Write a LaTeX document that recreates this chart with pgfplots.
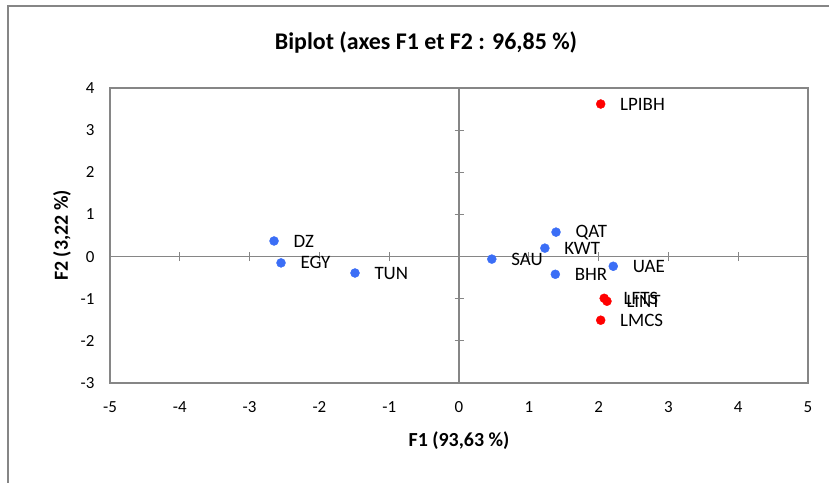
\documentclass[border=0pt]{standalone}
\usepackage{fontspec}
\setmainfont{Carlito}
\usepackage{pgfplots}
\usepackage{pgfplotstable}
\pgfplotsset{compat=1.18}
\definecolor{ptblue}{RGB}{59,110,246}
\definecolor{ptred}{RGB}{255,0,0}
\definecolor{axgray}{RGB}{134,134,134}

\pgfplotstableread{
x y label
-2.65 0.37 DZ
-2.55 -0.15 EGY
-1.49 -0.39 TUN
0.47 -0.06 SAU
1.23 0.20 KWT
1.39 0.58 QAT
1.38 -0.42 BHR
2.21 -0.23 UAE
}\obs
\pgfplotstableread{
x y label
2.03 3.62 LPIBH
2.08 -0.99 LFTS
2.12 -1.06 LINT
2.03 -1.51 LMCS
}\vars

\begin{document}
\begin{tikzpicture}
\useasboundingbox (0,0) rectangle (829bp,483bp);
\draw[axgray, line width=1.5bp] (8bp,0) -- (8bp,477bp) -- (829bp,477bp);
\node[font=\fontsize{24}{28}\selectfont\bfseries] at (426bp,440bp) {Biplot (axes F1 et F2 : 96,85 \%)};
% inner (middle) axes with crossing ticks
\begin{axis}[at={(110bp,100bp)}, anchor=south west, width=698bp, height=295bp, scale only axis,
  xmin=-5, xmax=5, ymin=-3, ymax=4,
  axis lines=middle, axis line style={draw=axgray, line width=1.2bp, -},
  every inner x axis line/.append style={-}, every inner y axis line/.append style={-},
  xtick={-5,...,5}, ytick={-3,...,4}, xticklabels={}, yticklabels={},
  major tick length=9bp, tick align=center, tick style={axgray, line width=1bp}]
\end{axis}
\begin{axis}[at={(110bp,100bp)}, anchor=south west, width=698bp, height=295bp, scale only axis,
  xmin=-5, xmax=5, ymin=-3, ymax=4, clip=false,
  xtick={-5,...,5}, ytick={-3,...,4}, major tick length=0pt,
  axis line style={draw=axgray, line width=1.2bp},
  /pgf/number format/assume math mode=true,
  tick label style={font=\fontsize{17}{20}\selectfont, text=black},
  xticklabel style={yshift=-15bp},
  yticklabel style={xshift=-12bp},
  xlabel={F1 (93,63 \%)}, ylabel={F2 (3,22 \%)},
  label style={font=\fontsize{20}{24}\selectfont\bfseries},
  xlabel style={at={([yshift=-58bp]axis description cs:0.5,0)}, anchor=center},
  ylabel style={at={([xshift=-48bp]axis description cs:0,0.5)}, anchor=center},
  nodes near coords={\pgfplotspointmeta},
  nodes near coords style={anchor=west, xshift=16bp, text=black, font=\fontsize{19}{22}\selectfont},
  ]
\addplot[only marks, mark=*, mark size=4.5bp, draw=ptblue, fill=ptblue, mark options={draw=ptblue, fill=ptblue},
  point meta=explicit symbolic] table[x=x, y=y, meta=label] {\obs};
\addplot[only marks, mark=*, mark size=4.5bp, draw=ptred, fill=ptred, mark options={draw=ptred, fill=ptred},
  point meta=explicit symbolic] table[x=x, y=y, meta=label] {\vars};
\end{axis}
\end{tikzpicture}
\end{document}
